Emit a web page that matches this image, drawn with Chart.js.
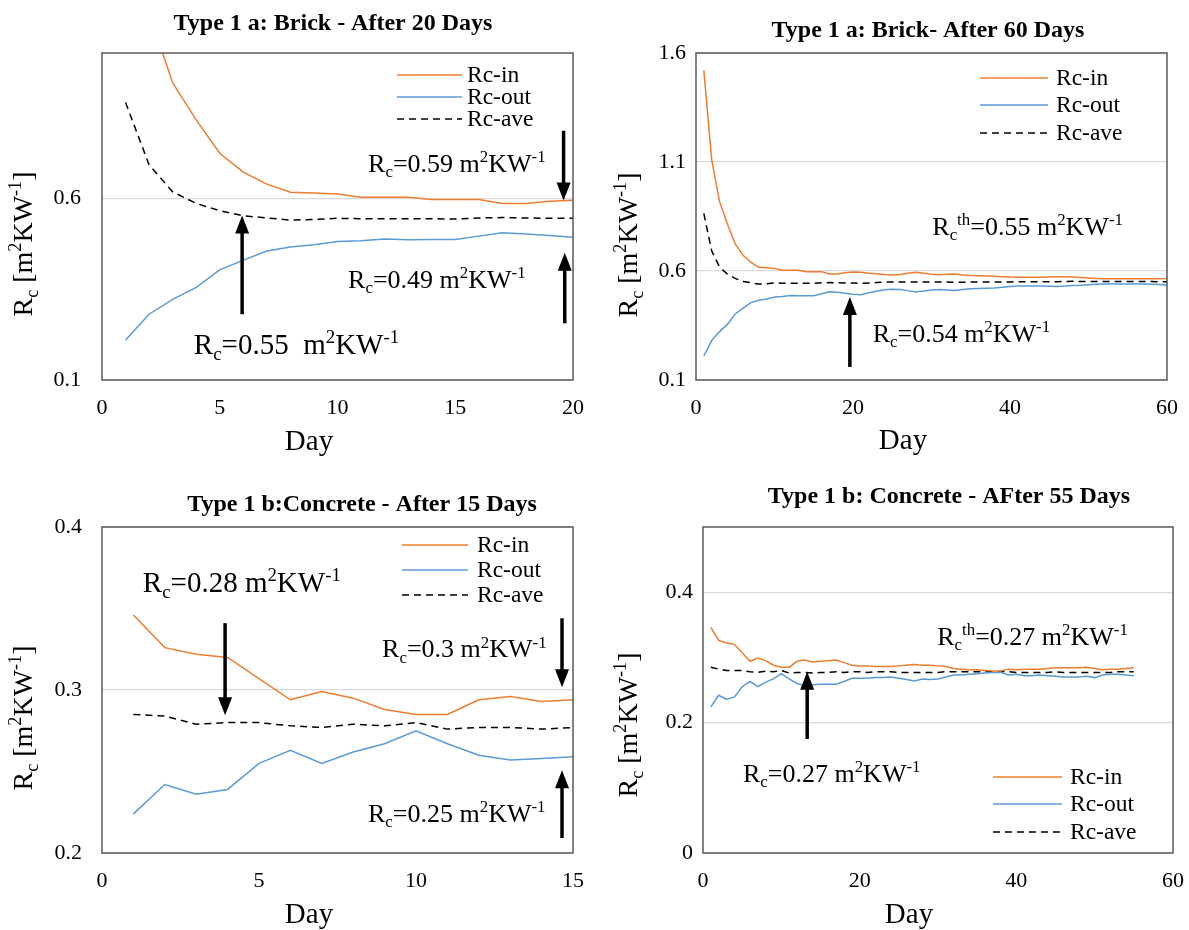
<!DOCTYPE html>
<html lang="en">
<head>
<meta charset="UTF-8" />
<title>Rc - Brick and Concrete</title>
<script src="https://cdn.jsdelivr.net/npm/chart.js"></script>
<style>
  body { margin: 0; background: #fff; }
  #wrap { position: relative; width: 1189px; height: 930px; }
  #wrap canvas { position: absolute; }
</style>
</head>
<body>
<div id="wrap">
  <canvas id="c1" width="595" height="465" style="left:0;top:0"></canvas>
  <canvas id="c2" width="594" height="465" style="left:595px;top:0"></canvas>
  <canvas id="c3" width="595" height="465" style="left:0;top:465px"></canvas>
  <canvas id="c4" width="594" height="465" style="left:595px;top:465px"></canvas>
</div>

<script>
const seriesNames = ['Rc-in', 'Rc-out', 'Rc-ave'];
const titles = [
  'Type 1 a: Brick - After 20 Days',
  'Type 1 a: Brick- After 60 Days',
  'Type 1 b:Concrete - After 15 Days',
  'Type 1 b: Concrete - AFter 55 Days'
];

// --- brick, 20 days
const brickDays20 = [1,2,3,4,5,6,7,8,9,10,11,12,13,14,15,16,17,18,19,20];
const brickIn20  = [1.52,1.11,0.918,0.816,0.724,0.672,0.639,0.617,0.615,0.612,0.603,0.603,0.603,0.597,0.597,0.597,0.586,0.586,0.592,0.595];
const brickOut20 = [0.210,0.281,0.322,0.355,0.403,0.430,0.455,0.466,0.472,0.481,0.483,0.488,0.486,0.487,0.487,0.496,0.505,0.502,0.498,0.493];
const brickAve20 = [0.864,0.692,0.618,0.586,0.566,0.552,0.546,0.540,0.542,0.545,0.544,0.544,0.544,0.544,0.543,0.546,0.547,0.546,0.545,0.545];

// --- brick, 60 days
const brickDays60 = [1,2,3,4,5,6,7,8,9,10,11,12,13,14,15,16,17,18,19,20,
  21,22,23,24,25,26,27,28,29,30,31,32,33,34,35,36,37,38,39,40,
  41,42,43,44,45,46,47,48,49,50,51,52,53,54,55,56,57,58,59,60];
const brickIn60 = [1.52,1.11,0.918,0.816,0.724,0.672,0.639,0.617,0.615,0.612,0.603,0.603,0.603,0.597,0.597,0.597,0.586,0.586,0.592,0.595,
  0.594,0.590,0.587,0.584,0.582,0.584,0.590,0.594,0.590,0.585,0.583,0.585,0.586,0.582,0.579,0.578,0.577,0.576,0.574,0.572,
  0.571,0.571,0.571,0.571,0.573,0.574,0.574,0.572,0.570,0.568,0.566,0.565,0.565,0.565,0.565,0.565,0.565,0.565,0.565,0.566];
const brickOut60 = [0.210,0.281,0.322,0.355,0.403,0.430,0.455,0.466,0.472,0.481,0.483,0.488,0.486,0.487,0.487,0.496,0.505,0.502,0.498,0.493,
  0.491,0.500,0.507,0.514,0.516,0.515,0.510,0.504,0.508,0.513,0.515,0.513,0.511,0.515,0.519,0.520,0.521,0.522,0.525,0.529,
  0.531,0.531,0.531,0.531,0.530,0.529,0.531,0.534,0.535,0.537,0.539,0.540,0.540,0.540,0.540,0.540,0.540,0.539,0.538,0.536];
const brickAve60 = [0.864,0.692,0.618,0.586,0.566,0.552,0.546,0.540,0.542,0.545,0.544,0.544,0.544,0.544,0.543,0.546,0.547,0.546,0.545,0.545,
  0.543,0.545,0.547,0.549,0.549,0.549,0.550,0.549,0.549,0.549,0.549,0.549,0.548,0.548,0.549,0.549,0.549,0.549,0.550,0.550,
  0.551,0.551,0.551,0.551,0.551,0.551,0.552,0.553,0.552,0.552,0.552,0.552,0.552,0.552,0.552,0.552,0.552,0.552,0.551,0.551];

// --- concrete, 15 days
const concDays15 = [1,2,3,4,5,6,7,8,9,10,11,12,13,14,15];
const concIn15  = [0.346,0.326,0.322,0.320,0.307,0.294,0.299,0.295,0.288,0.285,0.285,0.294,0.296,0.293,0.294];
const concOut15 = [0.224,0.242,0.236,0.239,0.255,0.263,0.255,0.262,0.267,0.275,0.267,0.260,0.257,0.258,0.259];
const concAve15 = [0.285,0.284,0.279,0.280,0.280,0.278,0.277,0.279,0.278,0.280,0.276,0.277,0.277,0.276,0.277];

// --- concrete, 55 days
const concDays55 = [1,2,3,4,5,6,7,8,9,10,11,12,13,14,15,16,17,18,19,20,
  21,22,23,24,25,26,27,28,29,30,31,32,33,34,35,36,37,38,39,40,
  41,42,43,44,45,46,47,48,49,50,51,52,53,54,55];
const concIn55 = [0.346,0.326,0.322,0.320,0.307,0.294,0.299,0.295,0.288,0.285,0.285,0.294,0.296,0.293,0.294,
  0.295,0.296,0.292,0.288,0.287,0.287,0.286,0.286,0.286,0.287,0.288,0.289,0.288,0.288,0.287,0.286,0.283,0.282,0.281,0.281,
  0.280,0.279,0.279,0.282,0.281,0.282,0.282,0.282,0.283,0.284,0.284,0.284,0.284,0.285,0.283,0.281,0.282,0.282,0.283,0.284];
const concOut55 = [0.224,0.242,0.236,0.239,0.255,0.263,0.255,0.262,0.267,0.275,0.267,0.260,0.257,0.258,0.259,
  0.259,0.259,0.263,0.268,0.268,0.268,0.269,0.269,0.270,0.268,0.266,0.264,0.267,0.266,0.267,0.270,0.273,0.273,0.274,0.275,
  0.276,0.277,0.277,0.273,0.274,0.272,0.272,0.273,0.272,0.271,0.270,0.270,0.270,0.271,0.269,0.273,0.274,0.274,0.273,0.272];
const concAve55 = [0.285,0.282,0.280,0.280,0.280,0.278,0.277,0.279,0.278,0.280,0.276,0.277,0.277,0.276,0.277,
  0.277,0.278,0.277,0.278,0.278,0.277,0.278,0.278,0.278,0.277,0.277,0.277,0.277,0.277,0.277,0.278,0.278,0.278,0.278,0.278,
  0.278,0.278,0.278,0.278,0.277,0.277,0.277,0.277,0.277,0.278,0.277,0.277,0.277,0.277,0.277,0.277,0.277,0.278,0.278,0.278];

// tick labels
const xTicks1 = [0, 5, 10, 15, 20];
const yTicks1 = [0.1, 0.6];
const xTicks2 = [0, 20, 40, 60];
const yTicks2 = [0.1, 0.6, 1.1, 1.6];
const xTicks3 = [0, 5, 10, 15];
const yTicks3 = [0.2, 0.3, 0.4];
const xTicks4 = [0, 20, 40, 60];
const yTicks4 = [0, 0.2, 0.4];

const colors = ['#ED7D31', '#5B9BD5', '#000000'];
const dashes = [[], [], [7, 5]];
const SERIF = '"Liberation Serif", "Times New Roman", serif';

const panels = [
  { id: 'c1', title: titles[0], days: brickDays20, series: [brickIn20, brickOut20, brickAve20],
    xMin: 0, xMax: 20, yMin: 0.1, yMax: 1.0, xTicks: xTicks1, yTicks: yTicks1,
    area: { left: 102, top: 53, right: 573, bottom: 380 }, yPad: 21,
    titlePos: [333, 30], yTitlePos: [32, 244], xTitlePos: [309, 450],
    legend: { x0: 397, x1: 462, tx: 467, rows: [75, 97, 119] },
    notes: [
      { t: 'R_{c}=0.59 m^{2}KW^{-1}', x: 11.3, y: 0.672, s: 26 },
      { t: 'R_{c}=0.49 m^{2}KW^{-1}', x: 10.45, y: 0.353, s: 26 },
      { t: 'R_{c}=0.55  m^{2}KW^{-1}', x: 3.9, y: 0.172, s: 29 }
    ],
    arrows: [ { x: 19.6, from: 0.786, to: 0.594 }, { x: 19.65, from: 0.256, to: 0.45 }, { x: 5.95, from: 0.281, to: 0.553 } ] },
  { id: 'c2', title: titles[1], days: brickDays60, series: [brickIn60, brickOut60, brickAve60],
    xMin: 0, xMax: 60, yMin: 0.1, yMax: 1.6, xTicks: xTicks2, yTicks: yTicks2,
    area: { left: 101, top: 53, right: 572, bottom: 380 }, yPad: 10,
    titlePos: [333, 37], yTitlePos: [42, 245], xTitlePos: [308, 449],
    legend: { x0: 385, x1: 453, tx: 461, rows: [78, 105, 133] },
    notes: [
      { t: 'R_{c}^{th}=0.55 m^{2}KW^{-1}', x: 30.1, y: 0.765, s: 26 },
      { t: 'R_{c}=0.54 m^{2}KW^{-1}', x: 22.5, y: 0.274, s: 26 }
    ],
    arrows: [ { x: 19.6, from: 0.160, to: 0.481 } ] },
  { id: 'c3', title: titles[2], days: concDays15, series: [concIn15, concOut15, concAve15],
    xMin: 0, xMax: 15, yMin: 0.2, yMax: 0.4, xTicks: xTicks3, yTicks: yTicks3,
    area: { left: 102, top: 62, right: 573, bottom: 388 }, yPad: 20,
    titlePos: [362, 46], yTitlePos: [32, 253], xTitlePos: [309, 458],
    legend: { x0: 402, x1: 468, tx: 477, rows: [80, 105, 130] },
    notes: [
      { t: 'R_{c}=0.28 m^{2}KW^{-1}', x: 1.3, y: 0.36, s: 29 },
      { t: 'R_{c}=0.3 m^{2}KW^{-1}', x: 8.92, y: 0.32, s: 26 },
      { t: 'R_{c}=0.25 m^{2}KW^{-1}', x: 8.47, y: 0.219, s: 26 }
    ],
    arrows: [ { x: 3.92, from: 0.341, to: 0.2845 }, { x: 14.65, from: 0.344, to: 0.3017 }, { x: 14.65, from: 0.2092, to: 0.2508 } ] },
  { id: 'c4', title: titles[3], days: concDays55, series: [concIn55, concOut55, concAve55],
    xMin: 0, xMax: 60, yMin: 0, yMax: 0.5, xTicks: xTicks4, yTicks: yTicks4,
    area: { left: 108, top: 62, right: 578, bottom: 388 }, yPad: 10,
    titlePos: [354, 38], yTitlePos: [42, 260], xTitlePos: [314, 458],
    legend: { x0: 398, x1: 467, tx: 475, rows: [312, 339, 367] },
    notes: [
      { t: 'R_{c}^{th}=0.27 m^{2}KW^{-1}', x: 29.9, y: 0.319, s: 26 },
      { t: 'R_{c}=0.27 m^{2}KW^{-1}', x: 5.1, y: 0.109, s: 26 }
    ],
    arrows: [ { x: 13.3, from: 0.175, to: 0.278 } ] }
];

// text with _{sub} and ^{sup}
function drawRich(ctx, str, x, y, size, align) {
  const parts = [];
  const re = /([_^])\{([^}]*)\}|([^_^]+)/g;
  let m;
  while ((m = re.exec(str))) {
    if (m[3]) parts.push({ t: m[3], k: '' });
    else parts.push({ t: m[2], k: m[1] });
  }
  let w = 0;
  parts.forEach(p => {
    p.s = p.k ? size * 0.65 : size;
    ctx.font = p.s + 'px ' + SERIF;
    p.w = ctx.measureText(p.t).width;
    w += p.w;
  });
  let cx = align === 'center' ? x - w / 2 : x;
  ctx.textAlign = 'left';
  ctx.textBaseline = 'alphabetic';
  ctx.fillStyle = '#000';
  parts.forEach(p => {
    ctx.font = p.s + 'px ' + SERIF;
    const dy = p.k === '^' ? -size * 0.38 : (p.k === '_' ? size * 0.2 : 0);
    ctx.fillText(p.t, cx, y + dy);
    cx += p.w;
  });
}

function drawArrow(ctx, x, y0, y1) {
  const dir = Math.sign(y1 - y0);
  const head = 17, hw = 7;
  ctx.strokeStyle = '#000';
  ctx.fillStyle = '#000';
  ctx.lineWidth = 3.5;
  ctx.beginPath();
  ctx.moveTo(x, y0);
  ctx.lineTo(x, y1 - dir * head);
  ctx.stroke();
  ctx.beginPath();
  ctx.moveTo(x, y1);
  ctx.lineTo(x - hw, y1 - dir * (head + 1));
  ctx.lineTo(x + hw, y1 - dir * (head + 1));
  ctx.closePath();
  ctx.fill();
}

function decorPlugin(p) {
  return {
    id: 'decor_' + p.id,
    afterDraw(chart) {
      const ctx = chart.ctx;
      const a = chart.chartArea;
      const xs = chart.scales.x, ys = chart.scales.y;
      ctx.save();
      // frame
      ctx.strokeStyle = '#595959';
      ctx.lineWidth = 1.5;
      ctx.strokeRect(a.left, a.top, a.right - a.left, a.bottom - a.top);

      // title
      ctx.fillStyle = '#000';
      ctx.font = 'bold 24px ' + SERIF;
      ctx.textAlign = 'center';
      ctx.textBaseline = 'alphabetic';
      ctx.fillText(p.title, p.titlePos[0], p.titlePos[1]);

      // axis titles
      ctx.font = '29px ' + SERIF;
      ctx.fillText('Day', p.xTitlePos[0], p.xTitlePos[1]);
      ctx.save();
      ctx.translate(p.yTitlePos[0], p.yTitlePos[1]);
      ctx.rotate(-Math.PI / 2);
      drawRich(ctx, 'R_{c} [m^{2}KW^{-1}]', 0, 0, 28, 'center');
      ctx.restore();

      // legend
      const lg = p.legend;
      chart.data.datasets.forEach((ds, i) => {
        const y = lg.rows[i];
        ctx.strokeStyle = ds.borderColor;
        ctx.lineWidth = ds.borderWidth;
        ctx.setLineDash(ds.borderDash || []);
        ctx.beginPath();
        ctx.moveTo(lg.x0, y);
        ctx.lineTo(lg.x1, y);
        ctx.stroke();
        ctx.setLineDash([]);
        ctx.fillStyle = '#000';
        ctx.font = '23.5px ' + SERIF;
        ctx.textAlign = 'left';
        ctx.textBaseline = 'middle';
        ctx.fillText(ds.label, lg.tx, y + 1);
      });

      // notes and arrows
      p.notes.forEach(n => drawRich(ctx, n.t, xs.getPixelForValue(n.x), ys.getPixelForValue(n.y), n.s, 'left'));
      p.arrows.forEach(r => drawArrow(ctx, xs.getPixelForValue(r.x), ys.getPixelForValue(r.from), ys.getPixelForValue(r.to)));
      ctx.restore();
    }
  };
}

function makeChart(p) {
  const cv = document.getElementById(p.id);
  const W = cv.width, H = cv.height;
  const xAxisH = 45;
  const datasets = p.series.map((vals, i) => ({
    label: seriesNames[i],
    data: p.days.map((d, k) => ({ x: d, y: vals[k] })),
    borderColor: colors[i],
    backgroundColor: colors[i],
    borderWidth: 1.5,
    borderDash: dashes[i],
    pointRadius: 0,
    tension: 0,
    fill: false
  }));
  return new Chart(cv, {
    type: 'line',
    data: { datasets: datasets },
    options: {
      responsive: false,
      animation: false,
      layout: { padding: { left: 0, top: p.area.top, right: W - p.area.right, bottom: H - p.area.bottom - xAxisH } },
      plugins: { legend: { display: false }, tooltip: { enabled: false } },
      scales: {
        x: {
          type: 'linear', min: p.xMin, max: p.xMax,
          afterFit: s => { s.height = xAxisH; s.paddingLeft = 0; s.paddingRight = 0; },
          afterBuildTicks: s => { s.ticks = p.xTicks.map(v => ({ value: v })); },
          grid: { display: false, drawTicks: false },
          border: { display: false },
          ticks: { padding: 15, color: '#000', maxRotation: 0, autoSkip: false,
                   font: { family: SERIF, size: 22 }, callback: v => String(v) }
        },
        y: {
          type: 'linear', min: p.yMin, max: p.yMax,
          afterFit: s => { s.width = p.area.left; s.paddingTop = 0; s.paddingBottom = 0; },
          afterBuildTicks: s => { s.ticks = p.yTicks.map(v => ({ value: v })); },
          grid: { color: '#d9d9d9', lineWidth: 1.3, drawTicks: false },
          border: { display: false },
          ticks: { padding: p.yPad, color: '#000', autoSkip: false,
                   font: { family: SERIF, size: 22 }, callback: v => String(v) }
        }
      }
    },
    plugins: [decorPlugin(p)]
  });
}

panels.forEach(makeChart);
</script>
</body>
</html>
